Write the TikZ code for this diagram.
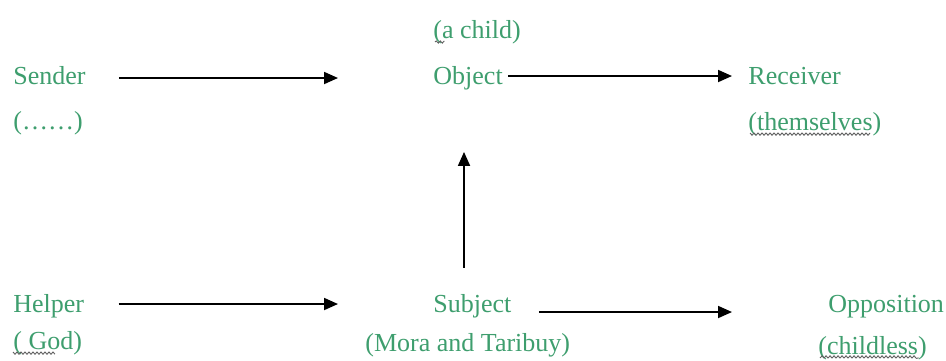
\documentclass[tikz,border=0pt]{standalone}
\usepackage{fontspec}
\setmainfont{Liberation Serif}
\usepackage{tikz}
\usetikzlibrary{positioning}
\usetikzlibrary{arrows.meta}
\usetikzlibrary{decorations.pathmorphing}
\definecolor{actgreen}{RGB}{62,158,110}
\tikzset{actant node/.style={shape=rectangle, inner sep=0pt,
    text=actgreen, font=\fontsize{13bp}{15bp}\selectfont}}
\tikzset{flow/.style={draw, line width=0.9bp,
    -{Triangle[length=7bp,width=6bp]}}}
\tikzset{squiggle/.style={draw=gray!75!black, line width=0.45bp,
    decorate, decoration={snake, amplitude=0.55bp, segment length=2bp}}}

\begin{document}
\begin{tikzpicture}[x=0.5bp, y=-0.5bp]
    \useasboundingbox (0,0) rectangle (946,360);

    \node[actant node, anchor=base west] (1) at (13,84) {Sender};
    \node[actant node] (2) [right = 210bp of 1.base west, anchor=base west] {Object};
    \node[actant node] (3) [right = 157.5bp of 2.base west, anchor=base west] {Receiver};

    \node[actant node] (4) [below = 114bp of 1.base west, anchor=base west] {Helper};
    \node[actant node] (5) [below = 114bp of 2.base west, anchor=base west] {Subject};
    \node[actant node] (6) [below right = 114bp and 40bp of 3.base west, anchor=base west] {Opposition};

    % who stands behind each role
    \node[actant node] (7) [below = 22.5bp of 1.base west, anchor=base west] {(……)};
    \node[actant node] (8) [above = 23bp of 2.base west, anchor=base west] {(a child)};
    \node[actant node] (9) [below = 23bp of 3.base west, anchor=base west] {(themselves)};
    \node[actant node] (10) [below = 18.5bp of 4.base west, anchor=base west] {( God)};
    \node[actant node] (11) [below left = 19.5bp and 34bp of 5.base west, anchor=base west] {(Mora and Taribuy)};
    \node[actant node] (12) [below left = 21bp and 5bp of 6.base west, anchor=base west] {(childless)};

    \path[every edge/.append style={flow}]
    ([xshift=16.5bp,yshift=3bp]1.base east) edge ([xshift=-47.5bp,yshift=3bp]2.base west)
    ([xshift=2.5bp,yshift=4bp]2.base east) edge ([xshift=-8bp,yshift=4bp]3.base west)
    ([xshift=17bp,yshift=4bp]4.base east) edge ([xshift=-47.5bp,yshift=4bp]5.base west)
    ([xshift=13.5bp,yshift=0bp]5.base east) edge ([xshift=-48bp,yshift=0bp]6.base west)
    ([xshift=15.5bp,yshift=13bp]5.north west) edge ([xshift=15.5bp,yshift=-31bp]2.south west)
    ;

    % spell-check marks under some words
    \path[squiggle]
    ([xshift=1bp,yshift=-2bp]8.base west) -- ([xshift=5bp,yshift=-2bp]8.base west)
    ([xshift=1bp,yshift=-1.5bp]9.base west) -- ([xshift=-6bp,yshift=-1.5bp]9.base east)
    ([yshift=-1.5bp]10.base west) -- ([xshift=-13bp,yshift=-1.5bp]10.base east)
    ([xshift=1bp,yshift=-2bp]12.base west) -- ([xshift=-4bp,yshift=-2bp]12.base east);
\end{tikzpicture}
\end{document}
